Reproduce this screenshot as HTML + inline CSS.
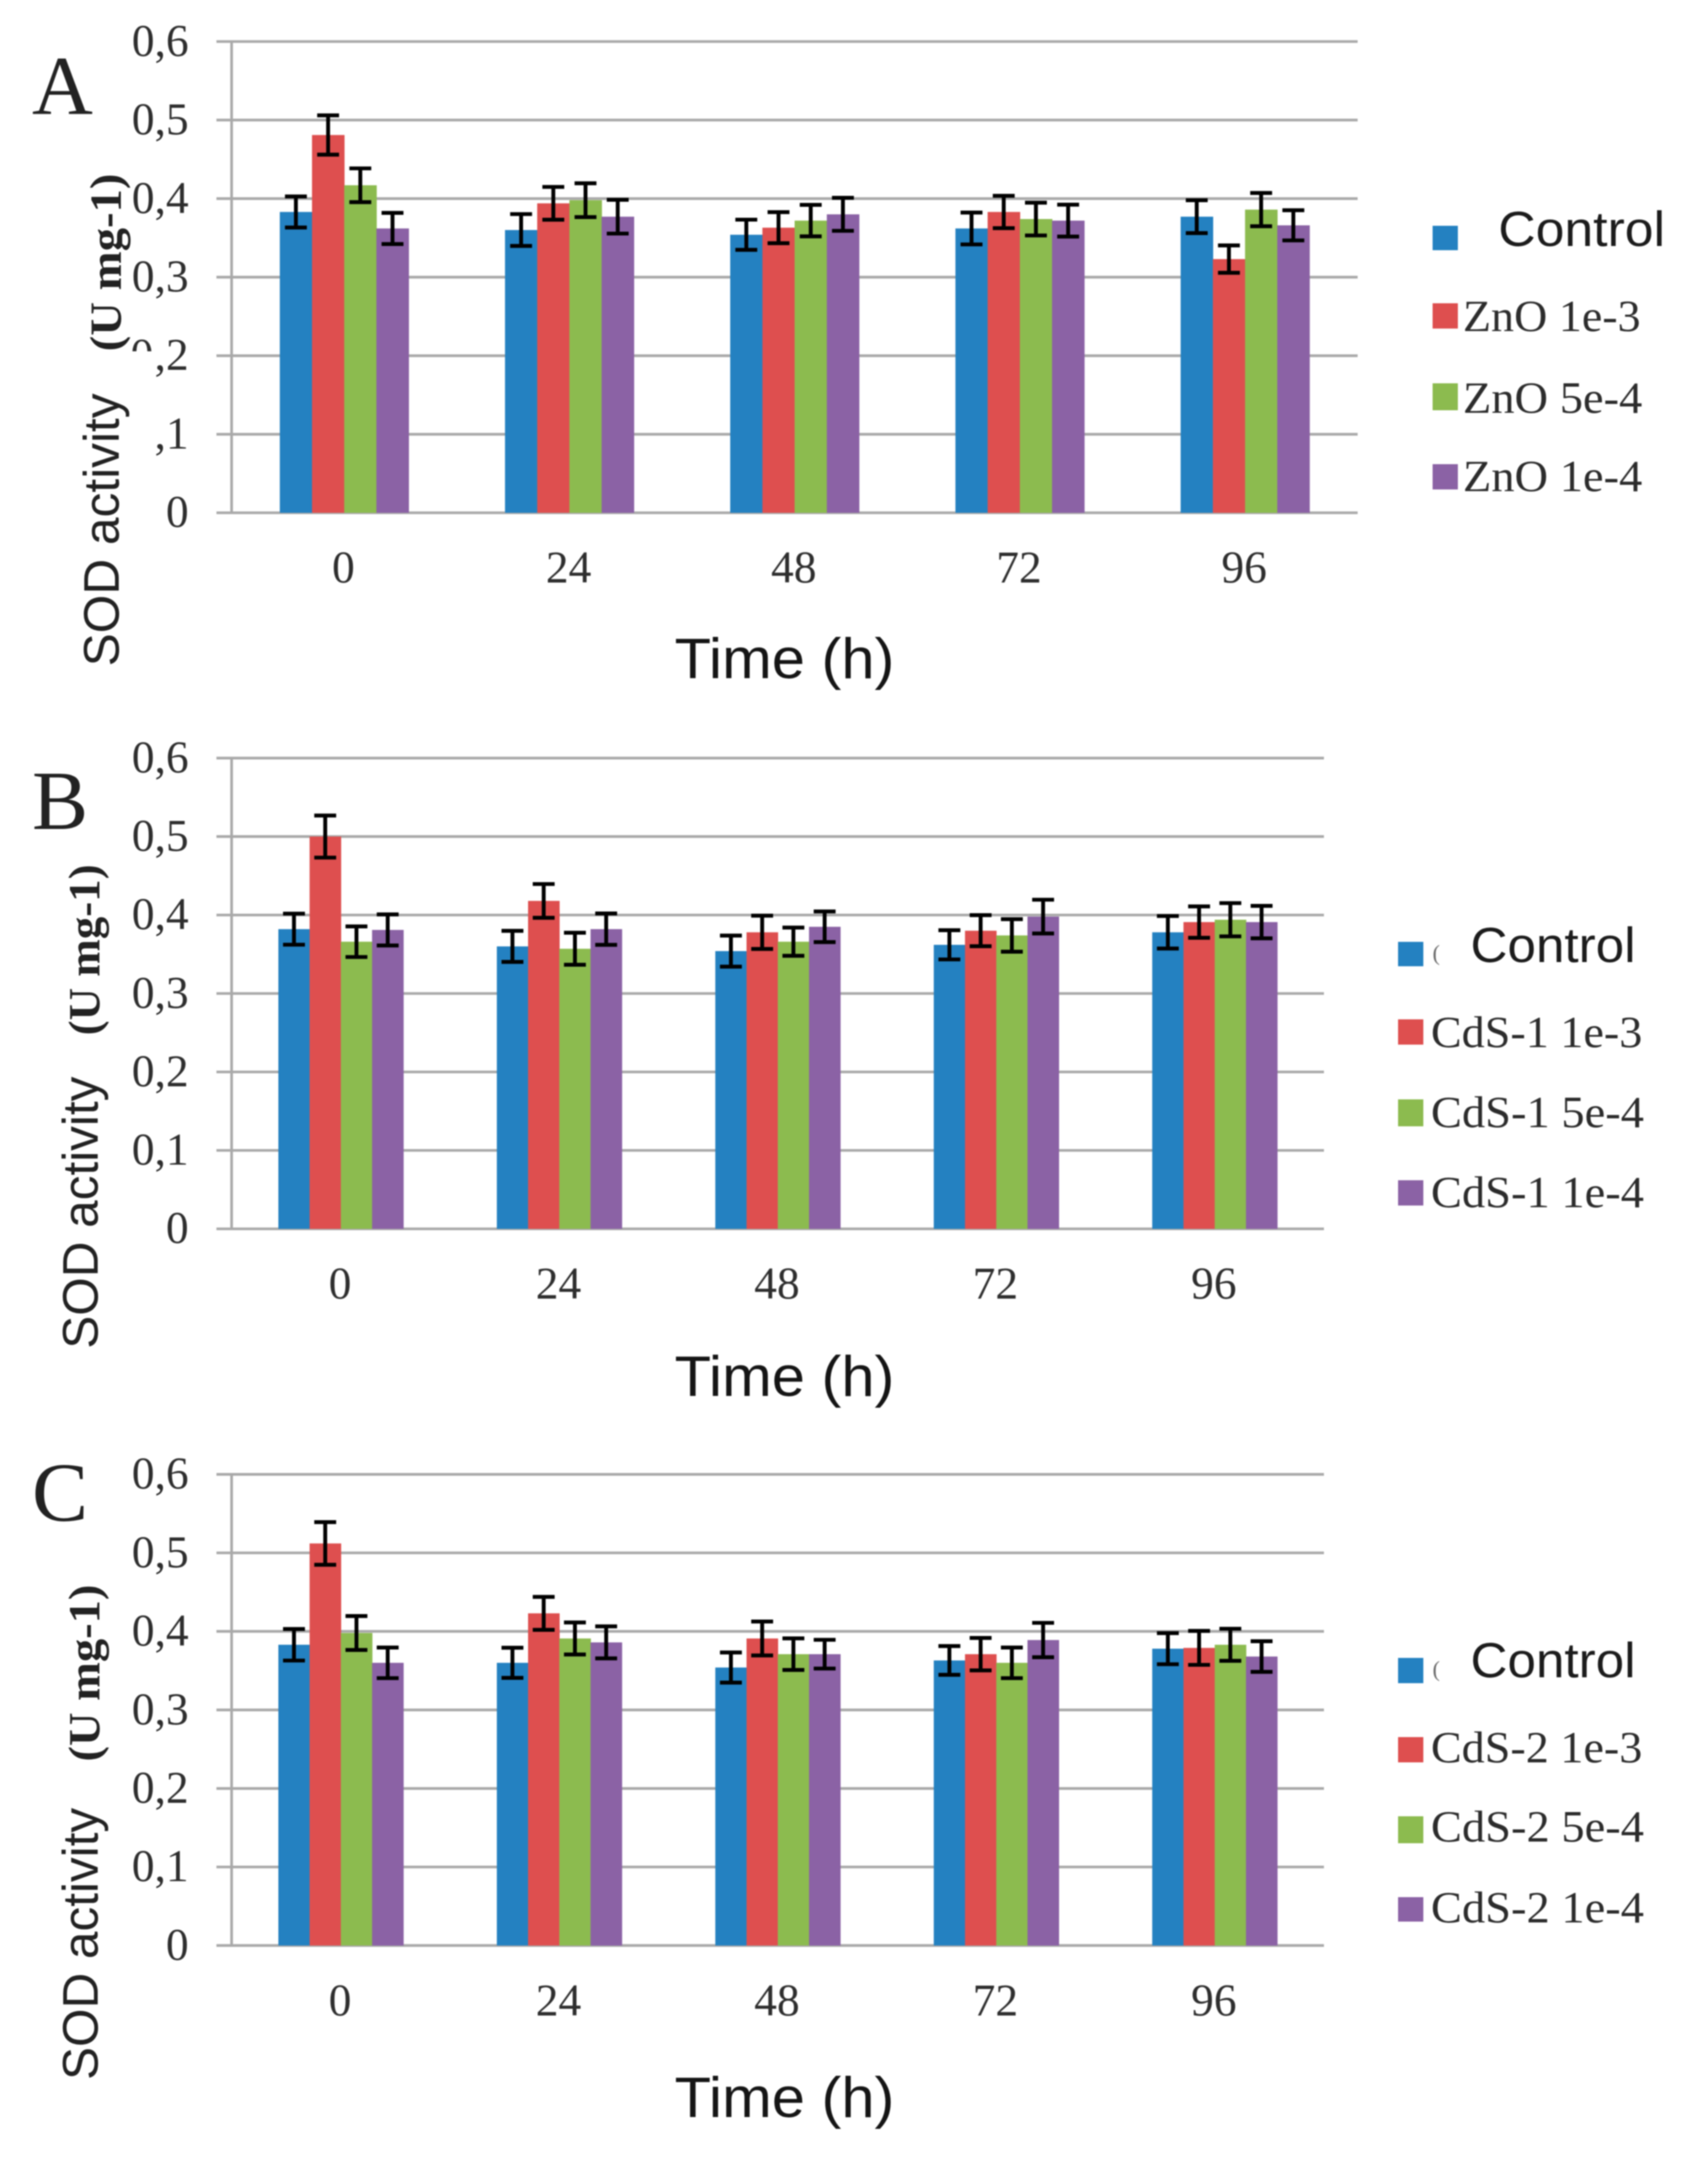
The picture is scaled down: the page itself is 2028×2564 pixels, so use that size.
<!DOCTYPE html>
<html lang="en">
<head>
<meta charset="utf-8">
<title>SOD activity over time</title>
<style>
  html, body { margin: 0; padding: 0; background: #fff; }
  svg { display: block; filter: blur(0.7px); }
  .serif { font-family: "Liberation Serif", serif; }
  .sans { font-family: "Liberation Sans", sans-serif; }
  .tick { font-size: 54px; fill: #2e2e2e; }
  .legend-serif { font-size: 53px; fill: #2c2c2c; }
  .legend-sans { font-size: 58px; fill: #1c1c1c; }
  .letter { font-size: 100px; fill: #222; }
  .x-title { font-size: 68px; fill: #151515; }
  .y-title { font-size: 59px; fill: #222; }
  .y-unit { font-size: 53px; font-weight: bold; fill: #222; }
</style>
</head>
<body>
<svg id="figure" xmlns="http://www.w3.org/2000/svg" width="2028" height="2564" viewBox="0 0 2028 2564">
  <rect width="2028" height="2564" fill="#fff"/>
  <defs>
    <clipPath id="partial-zero-clip"><rect x="150" y="395" width="40" height="22"/></clipPath>
  </defs>

  <g id="panel-a"></g>
  <text class="serif tick" x="155" y="439" clip-path="url(#partial-zero-clip)">0</text>
  <text class="serif letter" x="38" y="135">A</text>
  <text class="sans y-title" transform="translate(141,791) rotate(-90)" textLength="324" lengthAdjust="spacingAndGlyphs">SOD activity</text>
  <text class="serif y-unit" transform="translate(143.5,417) rotate(-90)" textLength="211" lengthAdjust="spacingAndGlyphs">(U mg-1)</text>
  <text class="sans x-title" x="801" y="805" textLength="261" lengthAdjust="spacingAndGlyphs">Time (h)</text>
  <g>
    <rect x="1701" y="268" width="30" height="29" fill="#2481c1"/>
    <text class="sans legend-sans" x="1779" y="292" textLength="198" lengthAdjust="spacingAndGlyphs">Control</text>
    <rect x="1701" y="360" width="30" height="30" fill="#de4f4f"/>
    <text class="serif legend-serif" x="1737" y="393" textLength="211" lengthAdjust="spacingAndGlyphs">ZnO 1e-3</text>
    <rect x="1701" y="455" width="30" height="32" fill="#8cbb4f"/>
    <text class="serif legend-serif" x="1737" y="490" textLength="213" lengthAdjust="spacingAndGlyphs">ZnO 5e-4</text>
    <rect x="1701" y="551" width="30" height="30" fill="#8b62a5"/>
    <text class="serif legend-serif" x="1737" y="583" textLength="213" lengthAdjust="spacingAndGlyphs">ZnO 1e-4</text>
  </g>

  <g id="panel-b"></g>
  <text class="serif letter" x="38" y="984">B</text>
  <text class="sans y-title" transform="translate(116,1601) rotate(-90)" textLength="323" lengthAdjust="spacingAndGlyphs">SOD activity</text>
  <text class="serif y-unit" transform="translate(118,1229) rotate(-90)" textLength="203" lengthAdjust="spacingAndGlyphs">(U mg-1)</text>
  <text class="sans x-title" x="801" y="1657" textLength="261" lengthAdjust="spacingAndGlyphs">Time (h)</text>
  <g>
    <rect x="1660" y="1118" width="30" height="29" fill="#2481c1"/>
    <text class="serif" x="1701" y="1140" font-size="26" fill="#666">(</text>
    <text class="sans legend-sans" x="1746" y="1142" textLength="196" lengthAdjust="spacingAndGlyphs">Control</text>
    <rect x="1660" y="1210" width="30" height="30" fill="#de4f4f"/>
    <text class="serif legend-serif" x="1699" y="1243" textLength="251" lengthAdjust="spacingAndGlyphs">CdS-1 1e-3</text>
    <rect x="1660" y="1305" width="30" height="32" fill="#8cbb4f"/>
    <text class="serif legend-serif" x="1699" y="1338" textLength="253" lengthAdjust="spacingAndGlyphs">CdS-1 5e-4</text>
    <rect x="1660" y="1401" width="30" height="30" fill="#8b62a5"/>
    <text class="serif legend-serif" x="1699" y="1433" textLength="253" lengthAdjust="spacingAndGlyphs">CdS-1 1e-4</text>
  </g>

  <g id="panel-c"></g>
  <text class="serif letter" x="38" y="1805">C</text>
  <text class="sans y-title" transform="translate(116,2469) rotate(-90)" textLength="323" lengthAdjust="spacingAndGlyphs">SOD activity</text>
  <text class="serif y-unit" transform="translate(118,2091) rotate(-90)" textLength="210" lengthAdjust="spacingAndGlyphs">(U mg-1)</text>
  <text class="sans x-title" x="801" y="2513" textLength="261" lengthAdjust="spacingAndGlyphs">Time (h)</text>
  <g>
    <rect x="1660" y="1968" width="30" height="30" fill="#2481c1"/>
    <text class="serif" x="1701" y="1990" font-size="26" fill="#666">(</text>
    <text class="sans legend-sans" x="1746" y="1991" textLength="196" lengthAdjust="spacingAndGlyphs">Control</text>
    <rect x="1660" y="2062" width="30" height="30" fill="#de4f4f"/>
    <text class="serif legend-serif" x="1699" y="2092" textLength="251" lengthAdjust="spacingAndGlyphs">CdS-2 1e-3</text>
    <rect x="1660" y="2156" width="30" height="32" fill="#8cbb4f"/>
    <text class="serif legend-serif" x="1699" y="2186" textLength="253" lengthAdjust="spacingAndGlyphs">CdS-2 5e-4</text>
    <rect x="1660" y="2252" width="30" height="29" fill="#8b62a5"/>
    <text class="serif legend-serif" x="1699" y="2282" textLength="253" lengthAdjust="spacingAndGlyphs">CdS-2 1e-4</text>
  </g>
</svg>

<script>
// Shared categories and axis labels
const categories = ["0", "24", "48", "72", "96"];
const yTicks = [0, 0.1, 0.2, 0.3, 0.4, 0.5, 0.6];
const tickLabels = ["0", "0,1", "0,2", "0,3", "0,4", "0,5", "0,6"];
const tickLabelsA = ["0", ",1", ",2", "0,3", "0,4", "0,5", "0,6"];

// Panel A values (per series, across time points)
const aControl = [0.383, 0.360, 0.354, 0.362, 0.377];
const aZnO1e3 = [0.481, 0.394, 0.363, 0.383, 0.323];
const aZnO5e4 = [0.417, 0.398, 0.372, 0.374, 0.386];
const aZnO1e4 = [0.362, 0.377, 0.380, 0.372, 0.366];
// Panel A error half-heights
const aControlErr = [0.0198, 0.0203, 0.0192, 0.0203, 0.0209];
const aZnO1e3Err = [0.0250, 0.0209, 0.0198, 0.0206, 0.0174];
const aZnO5e4Err = [0.0215, 0.0215, 0.0200, 0.0209, 0.0212];
const aZnO1e4Err = [0.0198, 0.0215, 0.0210, 0.0203, 0.0192];

// Panel B values
const bControl = [0.382, 0.360, 0.354, 0.362, 0.378];
const bCdS11e3 = [0.500, 0.418, 0.378, 0.380, 0.391];
const bCdS15e4 = [0.366, 0.357, 0.366, 0.374, 0.394];
const bCdS11e4 = [0.381, 0.382, 0.385, 0.398, 0.391];
// Panel B error half-heights
const bControlErr = [0.0198, 0.0198, 0.0198, 0.0186, 0.0207];
const bCdS11e3Err = [0.0268, 0.0215, 0.0212, 0.0198, 0.0200];
const bCdS15e4Err = [0.0195, 0.0204, 0.0180, 0.0207, 0.0212];
const bCdS11e4Err = [0.0198, 0.0200, 0.0195, 0.0215, 0.0207];

// Panel C values
const cControl = [0.383, 0.360, 0.354, 0.363, 0.378];
const cCdS21e3 = [0.512, 0.423, 0.391, 0.371, 0.379];
const cCdS25e4 = [0.398, 0.391, 0.371, 0.360, 0.383];
const cCdS21e4 = [0.360, 0.386, 0.371, 0.389, 0.368];
// Panel C error half-heights
const cControlErr = [0.0201, 0.0192, 0.0192, 0.0183, 0.0198];
const cCdS21e3Err = [0.0272, 0.0210, 0.0216, 0.0207, 0.0216];
const cCdS25e4Err = [0.0216, 0.0204, 0.0201, 0.0195, 0.0204];
const cCdS21e4Err = [0.0195, 0.0204, 0.0183, 0.0219, 0.0195];

const seriesColors = ["#2481c1", "#de4f4f", "#8cbb4f", "#8b62a5"];

const SVG_NS = "http://www.w3.org/2000/svg";
function make(tag, parent, attrs) {
  const el = document.createElementNS(SVG_NS, tag);
  for (const k in attrs) el.setAttribute(k, attrs[k]);
  parent.appendChild(el);
  return el;
}

function drawPanel(groupId, frame, yLabels, seriesValues, seriesErrors) {
  const g = document.getElementById(groupId);
  const yScale = v => frame.y0 + (frame.yTop - frame.y0) * (v / 0.6);
  const step = (frame.right - frame.left) / categories.length;
  const groupWidth = step * 0.572;
  const barWidth = groupWidth / seriesValues.length;
  const xBand = i => frame.left + step * i + step / 2;
  const grid = "#a9a9a9";

  yTicks.forEach((t, i) => {
    const line = make("line", g, { x1: frame.left - 18, x2: frame.right, y1: yScale(t), y2: yScale(t), stroke: grid, "stroke-width": 3.2 });
    
    
    const label = make("text", g, { x: 224, y: yScale(t) + 17, "text-anchor": "end", class: "serif tick" });
    
    
    label.textContent = yLabels[i];
  });

  const axis = make("line", g, { x1: frame.left, x2: frame.left, y1: yScale(0.6), y2: yScale(0) + 1, stroke: grid, "stroke-width": 3.2 });
  
  

  categories.forEach((c, i) => {
    const label = make("text", g, { x: xBand(i) - 1, y: frame.y0 + 83, "text-anchor": "middle", class: "serif tick" });
    
    
    label.textContent = c;

    seriesValues.forEach((vals, s) => {
      const x = xBand(i) - groupWidth / 2 + barWidth * s;
      const bar = make("rect", g, { x: x, y: yScale(vals[i]), width: barWidth + 0.4, height: yScale(0) - yScale(vals[i]), fill: seriesColors[s] });
      
      
    });

    seriesValues.forEach((vals, s) => {
      const cx = xBand(i) - groupWidth / 2 + barWidth * (s + 0.5);
      const top = yScale(vals[i] + seriesErrors[s][i]);
      const bottom = yScale(vals[i] - seriesErrors[s][i]);
      const err = make("path", g, {
        d: "M" + (cx - 13) + " " + top + "H" + (cx + 13) + "M" + cx + " " + top + "V" + bottom + "M" + (cx - 13) + " " + bottom + "H" + (cx + 13),
        stroke: "#000", "stroke-width": 4.6, fill: "none"
      });
      
      
    });
  });
}

drawPanel("panel-a", { left: 275, right: 1612, yTop: 49.3, y0: 608.7 }, tickLabelsA,
  [aControl, aZnO1e3, aZnO5e4, aZnO1e4], [aControlErr, aZnO1e3Err, aZnO5e4Err, aZnO1e4Err]);
drawPanel("panel-b", { left: 275, right: 1572, yTop: 899.9, y0: 1458.7 }, tickLabels,
  [bControl, bCdS11e3, bCdS15e4, bCdS11e4], [bControlErr, bCdS11e3Err, bCdS15e4Err, bCdS11e4Err]);
drawPanel("panel-c", { left: 275, right: 1572, yTop: 1750.1, y0: 2309.4 }, tickLabels,
  [cControl, cCdS21e3, cCdS25e4, cCdS21e4], [cControlErr, cCdS21e3Err, cCdS25e4Err, cCdS21e4Err]);
</script>
</body>
</html>
